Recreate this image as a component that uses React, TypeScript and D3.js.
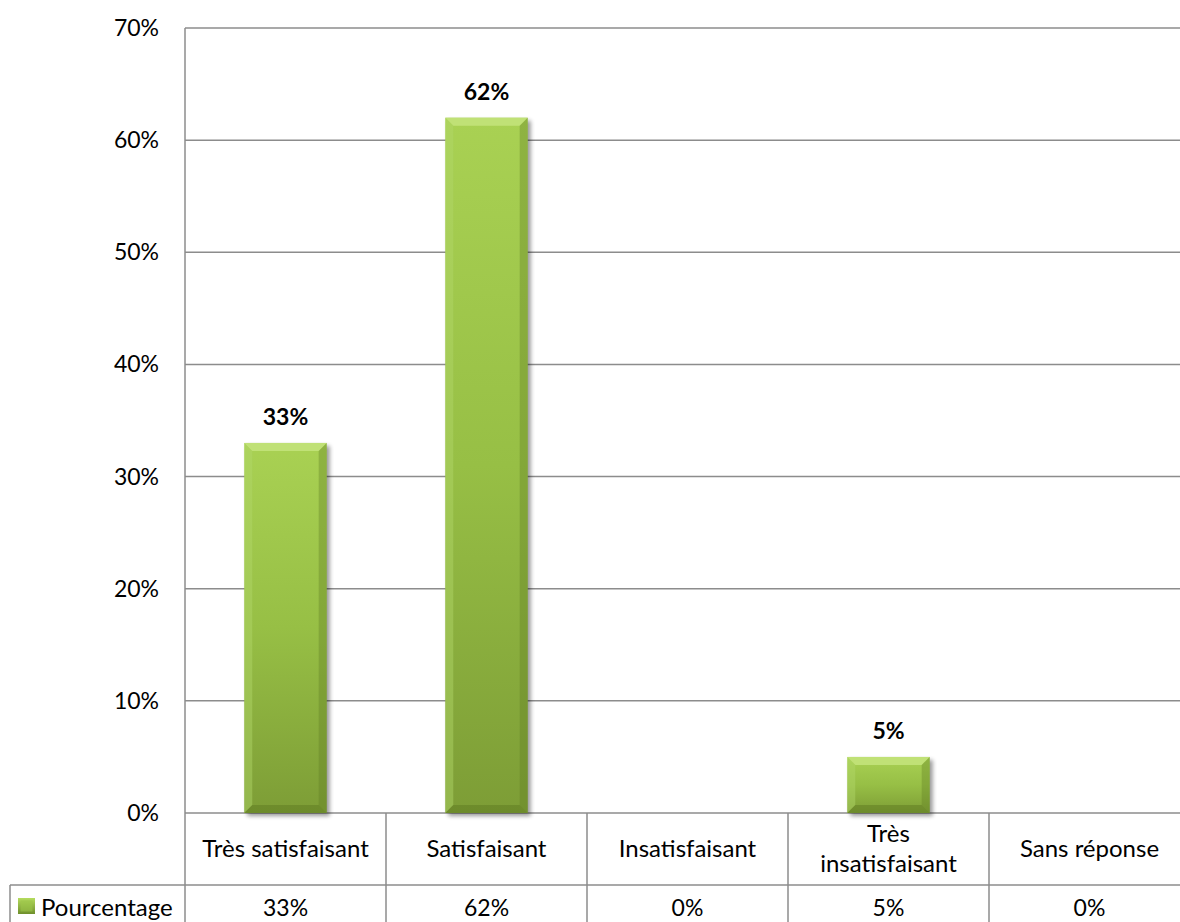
import React from "react";
import * as d3 from "d3";

const categories = ["Très satisfaisant", "Satisfaisant", "Insatisfaisant", "Très insatisfaisant", "Sans réponse"];
const categoryLines = [["Très satisfaisant"], ["Satisfaisant"], ["Insatisfaisant"], ["Très", "insatisfaisant"], ["Sans réponse"]];
const values = [33, 62, 0, 5, 0];
const seriesName = "Pourcentage";
const yTicks = [0, 10, 20, 30, 40, 50, 60, 70];

const W = 1180;
const H = 922;
const plotLeft = 185;
const plotTop = 28;
const plotBottom = 813;
const colWidth = 201;
const rowDivider = 885;
const legendLeft = 10;
const font = "Lato, 'Open Sans', sans-serif";
const gridColor = "#8c8c8c";
const textSize = 24;
const numSize = 23;

export default function App() {
  const x = d3
    .scaleBand<string>()
    .domain(categories)
    .range([plotLeft, plotLeft + colWidth * categories.length])
    .padding(0);
  const y = d3.scaleLinear().domain([0, 70]).range([plotBottom, plotTop]);
  const barW = x.bandwidth() * 0.41;
  const bev = 8;

  return (
    <svg
      width={W}
      height={H}
      style={{ position: "absolute", left: 0, top: 0, background: "#fff" }}
      fontFamily={font}
    >
      <defs>
        <linearGradient id="barFill" x1="0" y1="0" x2="0" y2="1">
          <stop offset="0" stopColor="#a9d153" />
          <stop offset="0.5" stopColor="#97bf45" />
          <stop offset="1" stopColor="#7d9d36" />
        </linearGradient>
        <linearGradient id="keyFill" x1="0" y1="0" x2="0" y2="1">
          <stop offset="0" stopColor="#b5dc5e" />
          <stop offset="1" stopColor="#6f8f2c" />
        </linearGradient>
        <filter id="shadow" x="-20%" y="-20%" width="140%" height="140%">
          <feGaussianBlur stdDeviation="2" />
        </filter>
      </defs>

      {/* horizontal gridlines */}
      {yTicks.map((t) => (
        <g key={t}>
          <line x1={plotLeft} x2={W} y1={y(t)} y2={y(t)} stroke={gridColor} strokeWidth={1.5} />
          <text x={plotLeft - 26} y={y(t)} dy="0.35em" textAnchor="end" fontSize={numSize} fill="#000">
            {t}%
          </text>
        </g>
      ))}

      {/* vertical axis line, running through the data table */}
      <line x1={plotLeft} x2={plotLeft} y1={plotTop} y2={H} stroke={gridColor} strokeWidth={1.5} />

      {/* bars with bevelled edges */}
      {values.map((v, i) => {
        if (v <= 0) return null;
        const cx = (x(categories[i]) as number) + x.bandwidth() / 2;
        const x0 = cx - barW / 2;
        const x1 = cx + barW / 2;
        const y0 = y(v);
        const y1 = y(0);
        return (
          <g key={categories[i]}>
            <rect x={x0 + 3} y={y0 + 3} width={barW} height={y1 - y0} fill="#000" opacity={0.4} filter="url(#shadow)" />
            <rect x={x0} y={y0} width={barW} height={y1 - y0} fill="url(#barFill)" />
            <polygon
              points={`${x0},${y0} ${x1},${y0} ${x1 - bev},${y0 + bev} ${x0 + bev},${y0 + bev}`}
              fill="#c4e47c"
              opacity={0.85}
            />
            <polygon
              points={`${x0},${y0} ${x0 + bev},${y0 + bev} ${x0 + bev},${y1 - bev} ${x0},${y1}`}
              fill="#b2d86a"
              opacity={0.45}
            />
            <polygon
              points={`${x1},${y0} ${x1 - bev},${y0 + bev} ${x1 - bev},${y1 - bev} ${x1},${y1}`}
              fill="#5f7c22"
              opacity={0.35}
            />
            <polygon
              points={`${x0},${y1} ${x0 + bev},${y1 - bev} ${x1 - bev},${y1 - bev} ${x1},${y1}`}
              fill="#5a7620"
              opacity={0.45}
            />
            <text x={cx} y={y0 - 26} dy="0.35em" textAnchor="middle" fontSize={numSize} fontWeight="bold" fill="#000">
              {v}%
            </text>
          </g>
        );
      })}

      {/* data table */}
      <line x1={legendLeft} x2={W} y1={rowDivider} y2={rowDivider} stroke={gridColor} strokeWidth={1.5} />
      <line x1={legendLeft} x2={legendLeft} y1={rowDivider} y2={H} stroke={gridColor} strokeWidth={1.5} />
      {categories.map((c, i) => {
        const bx = x(c) as number;
        const cx = bx + x.bandwidth() / 2;
        const lines = categoryLines[i];
        const mid = (plotBottom + rowDivider) / 2;
        return (
          <g key={c}>
            {i > 0 && <line x1={bx} x2={bx} y1={plotBottom} y2={H} stroke={gridColor} strokeWidth={1.5} />}
            {lines.map((ln, k) => (
              <text
                key={k}
                x={cx}
                y={mid + (k - (lines.length - 1) / 2) * 30}
                dy="0.35em"
                textAnchor="middle"
                fontSize={textSize}
                fill="#000"
              >
                {ln}
              </text>
            ))}
            <text x={cx} y={(rowDivider + H) / 2 + 4} dy="0.35em" textAnchor="middle" fontSize={numSize} fill="#000">
              {values[i]}%
            </text>
          </g>
        );
      })}
      <rect x={18} y={898} width={17} height={16} fill="url(#keyFill)" />
      <rect x={20.5} y={900.5} width={12} height={11} fill="#9cc649" opacity={0.6} />
      <text x={41} y={(rowDivider + H) / 2 + 4} dy="0.35em" fontSize={textSize} fill="#000">
        {seriesName}
      </text>
    </svg>
  );
}
